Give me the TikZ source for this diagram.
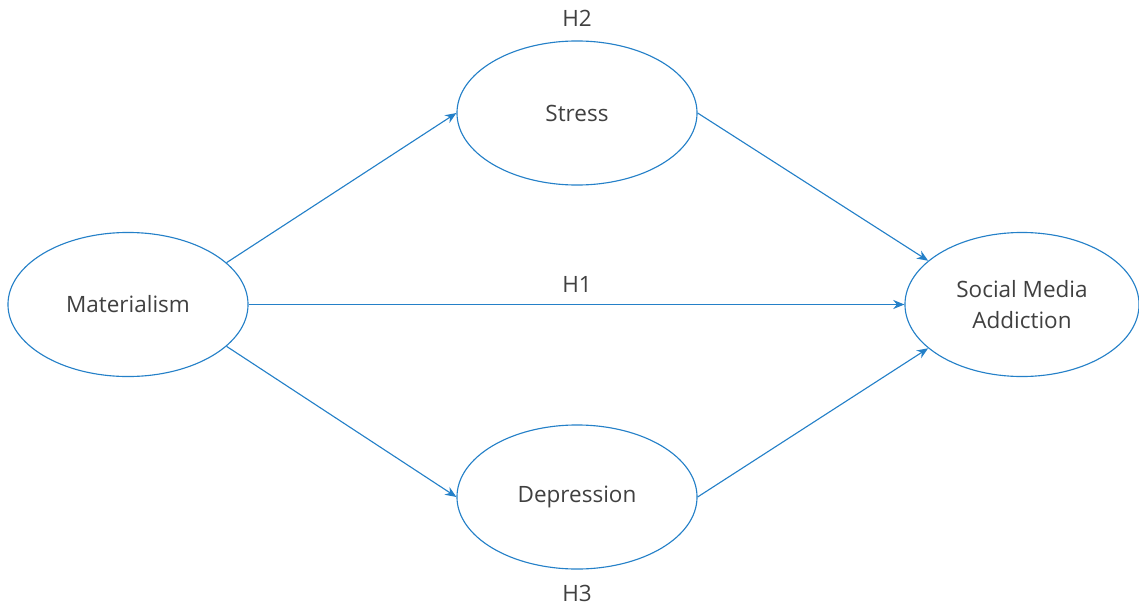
\documentclass[tikz,border=0pt]{standalone}
\usepackage{fontspec}
\setmainfont{Open Sans}
\usetikzlibrary{arrows.meta, shapes.geometric}
\definecolor{pathblue}{RGB}{36,128,200}
\definecolor{textgray}{RGB}{64,64,64}

\begin{document}
\begin{tikzpicture}[x=0.025cm, y=-0.025cm,
    latent/.style={ellipse, draw=pathblue, line width=0.8pt, fill=white,
        minimum width=6cm, minimum height=3.6cm, inner sep=0pt, align=center,
        text=textgray, font=\fontsize{16}{22}\selectfont},
    arrow/.style={-{Stealth[length=8pt, width=6.5pt]}, line width=0.8pt, pathblue},
    hlabel/.style={font=\fontsize{16}{20}\selectfont, text=textgray}
]
    \useasboundingbox (0,0) rectangle (1139,605);

    \node[latent] (mat)    at (128, 304.5) {Materialism};
    \node[latent] (stress) at (577, 113) {Stress};
    \node[latent] (dep)    at (577, 497) {Depression};
    \node[latent, minimum width=5.85cm] (sma) at (1022, 304.5) {Social Media\\Addiction};

    \draw[arrow] (mat.23)   -- (stress.west);
    \draw[arrow] (mat.-23)  -- (dep.west);
    \draw[arrow] (stress.east) -- (sma.155);
    \draw[arrow] (dep.east)    -- (sma.205);
    \draw[arrow] (mat.east) -- (sma.west);

    % hypothesis labels
    \node[hlabel] (h2) at (577, 18)  {H2};
    \node[hlabel] (h1) at (577, 284) {H1};
    \node[hlabel] (h3) at (577, 593) {H3};
\end{tikzpicture}
\end{document}
